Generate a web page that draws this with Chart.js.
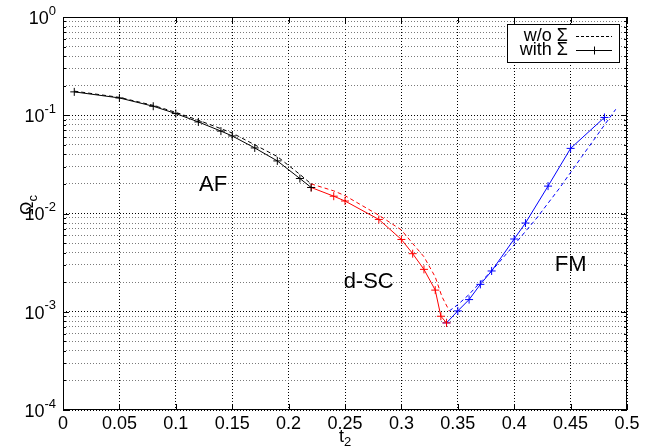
<!DOCTYPE html>
<html>
<head>
<meta charset="utf-8">
<script src="https://cdn.jsdelivr.net/npm/chart.js@4"></script>
<style>
  html, body { margin: 0; padding: 0; background: #fff; }
  #wrap { width: 645px; height: 448px; }
</style>
</head>
<body>
<div id="wrap"><canvas id="omegaChart"></canvas></div>
<script>
// Omega_c vs t2, with and without the self-energy, split by phase
const t2AFWith = [0.01, 0.05, 0.08, 0.10, 0.12, 0.14, 0.15, 0.17, 0.19, 0.21, 0.22];
const omegaAFWith = [0.173, 0.150, 0.1235, 0.104, 0.0855, 0.069, 0.0616, 0.0465, 0.0343, 0.0227, 0.0184];
const t2AFWithout = [0.01, 0.05, 0.08, 0.10, 0.12, 0.14, 0.15, 0.17, 0.19, 0.21, 0.22];
const omegaAFWithout = [0.176, 0.152, 0.126, 0.107, 0.089, 0.073, 0.066, 0.050, 0.038, 0.025, 0.020];

const t2SCWith = [0.22, 0.24, 0.25, 0.28, 0.30, 0.31, 0.32, 0.33, 0.335, 0.34];
const omegaSCWith = [0.0184, 0.0150, 0.0134, 0.0087, 0.00544, 0.0039, 0.0027, 0.00166, 0.0009, 0.00077];
const t2SCWithout = [0.22, 0.24, 0.25, 0.28, 0.30, 0.31, 0.32, 0.33, 0.336, 0.3425];
const omegaSCWithout = [0.0200, 0.0170, 0.0152, 0.0096, 0.0068, 0.00495, 0.00363, 0.00226, 0.00142, 0.00102];

const t2FMWith = [0.34, 0.35, 0.36, 0.37, 0.38, 0.40, 0.41, 0.43, 0.45, 0.48];
const omegaFMWith = [0.00077, 0.00102, 0.00133, 0.0019, 0.0026, 0.0055, 0.0080, 0.019, 0.046, 0.095];
const t2FMWithout = [0.3425, 0.35, 0.36, 0.37, 0.38, 0.40, 0.42, 0.44, 0.46, 0.49];
const omegaFMWithout = [0.00102, 0.00118, 0.0015, 0.0020, 0.0026, 0.0048, 0.009, 0.018, 0.038, 0.115];

const yDecades = [0, -1, -2, -3, -4];
const phaseLabels = [
  { text: 'AF', t2: 0.133, omega: 0.0194 },
  { text: 'd-SC', t2: 0.271, omega: 0.00201 },
  { text: 'FM', t2: 0.450, omega: 0.00298 }
];

const FONT = '"Liberation Sans", Arial, Helvetica, sans-serif';
const pairs = (xs, ys) => xs.map((v, i) => ({ x: v, y: ys[i] }));
const isDecade = v => Math.abs(Math.log10(v) - Math.round(Math.log10(v))) < 1e-9;

function lineSet(xs, ys, color, withSigma) {
  return {
    data: pairs(xs, ys),
    borderColor: color,
    backgroundColor: color,
    borderWidth: 1,
    borderDash: withSigma ? [] : [4, 3],
    pointStyle: 'cross',
    pointRadius: withSigma ? 4 : 0,
    pointBorderWidth: 1,
    pointBorderColor: color,
    tension: 0
  };
}

const decorations = {
  id: 'decorations',
  afterDraw(chart) {
    const { ctx, chartArea: a, scales: { x, y } } = chart;
    ctx.save();
    ctx.strokeStyle = '#000';
    ctx.lineWidth = 1;
    ctx.setLineDash([]);
    ctx.strokeRect(a.left + 0.5, a.top + 0.5, a.right - a.left - 1, a.bottom - a.top - 1);

    // inward tick marks on all four sides
    ctx.beginPath();
    y.ticks.forEach(t => {
      const py = Math.round(y.getPixelForValue(t.value)) + 0.5;
      const len = isDecade(t.value) ? 6 : 3;
      ctx.moveTo(a.left, py); ctx.lineTo(a.left + len, py);
      ctx.moveTo(a.right, py); ctx.lineTo(a.right - len, py);
    });
    x.ticks.forEach(t => {
      const px = Math.round(x.getPixelForValue(t.value)) + 0.5;
      ctx.moveTo(px, a.bottom); ctx.lineTo(px, a.bottom - 6);
      ctx.moveTo(px, a.top); ctx.lineTo(px, a.top + 6);
    });
    ctx.stroke();

    // y tick labels 10^n
    ctx.fillStyle = '#000';
    ctx.textBaseline = 'middle';
    ctx.textAlign = 'left';
    yDecades.forEach(e => {
      const py = y.getPixelForValue(Math.pow(10, e));
      ctx.font = '18px ' + FONT;
      const wb = ctx.measureText('10').width;
      ctx.font = '13px ' + FONT;
      const exp = String(e);
      const we = ctx.measureText(exp).width;
      const right = a.left - 7;
      ctx.font = '18px ' + FONT;
      ctx.fillText('10', right - we - wb, py + 2);
      ctx.font = '13px ' + FONT;
      ctx.fillText(exp, right - we, py - 6);
    });

    // axis titles
    ctx.font = '18px ' + FONT;
    const wt = ctx.measureText('t').width;
    ctx.font = '13px ' + FONT;
    const w2 = ctx.measureText('2').width;
    const cx = (a.left + a.right) / 2 - (wt + w2) / 2;
    ctx.font = '18px ' + FONT;
    ctx.fillText('t', cx, 437);
    ctx.font = '13px ' + FONT;
    ctx.fillText('2', cx + wt, 442);

    ctx.save();
    ctx.translate(28, 205);
    ctx.rotate(-Math.PI / 2);
    ctx.font = '18px ' + FONT;
    const wo = ctx.measureText('\u03A9').width;
    ctx.font = '13px ' + FONT;
    const wc = ctx.measureText('c').width;
    ctx.font = '18px ' + FONT;
    ctx.fillText('\u03A9', -(wo + wc) / 2, 0);
    ctx.font = '13px ' + FONT;
    ctx.fillText('c', -(wo + wc) / 2 + wo, 5);
    ctx.restore();

    // phase labels
    ctx.font = '22px ' + FONT;
    ctx.textAlign = 'center';
    phaseLabels.forEach(p => {
      ctx.fillText(p.text, x.getPixelForValue(p.t2), y.getPixelForValue(p.omega));
    });

    // legend box
    const bx = a.right - 120, by = a.top + 7, bw = 112, bh = 38;
    ctx.fillStyle = '#fff';
    ctx.fillRect(bx, by, bw, bh);
    ctx.strokeRect(bx + 0.5, by + 0.5, bw, bh);
    ctx.fillStyle = '#000';
    ctx.font = '18px ' + FONT;
    ctx.textAlign = 'right';
    ctx.fillText('w/o \u03A3', bx + 61, by + 12);
    ctx.fillText('with \u03A3', bx + 61, by + 26);
    ctx.beginPath();
    ctx.setLineDash([3, 2]);
    ctx.moveTo(bx + 69, by + 12.5); ctx.lineTo(bx + 105, by + 12.5);
    ctx.stroke();
    ctx.setLineDash([]);
    ctx.beginPath();
    ctx.moveTo(bx + 69, by + 26.5); ctx.lineTo(bx + 105, by + 26.5);
    ctx.moveTo(bx + 87.5, by + 22.5); ctx.lineTo(bx + 87.5, by + 30.5);
    ctx.stroke();
    ctx.restore();
  }
};

new Chart(document.getElementById('omegaChart'), {
  type: 'line',
  data: {
    datasets: [
      lineSet(t2AFWithout, omegaAFWithout, '#000000', false),
      lineSet(t2AFWith, omegaAFWith, '#000000', true),
      lineSet(t2SCWithout, omegaSCWithout, '#ff0000', false),
      lineSet(t2SCWith, omegaSCWith, '#ff0000', true),
      lineSet(t2FMWithout, omegaFMWithout, '#0000ff', false),
      lineSet(t2FMWith, omegaFMWith, '#0000ff', true)
    ]
  },
  options: {
    responsive: true,
    maintainAspectRatio: false,
    animation: false,
    layout: { padding: { top: 17, right: 18, left: 0, bottom: 0 } },
    plugins: { legend: { display: false }, tooltip: { enabled: false } },
    scales: {
      x: {
        type: 'linear',
        min: 0,
        max: 0.5,
        afterFit: s => { s.height = 38; },
        ticks: {
          stepSize: 0.05,
          color: '#000',
          padding: 3,
          maxRotation: 0,
          autoSkip: false,
          font: { family: FONT, size: 18 },
          callback: v => String(Math.round(v * 100) / 100)
        },
        grid: { color: '#000', drawTicks: false },
        border: { display: false, dash: [1, 2] }
      },
      y: {
        type: 'logarithmic',
        min: 1e-4,
        max: 1,
        afterFit: s => { s.width = 63; },
        afterBuildTicks: s => {
          const ticks = [];
          for (let e = -4; e < 0; e++) {
            for (let m = 1; m <= 9; m++) ticks.push({ value: m * Math.pow(10, e) });
          }
          ticks.push({ value: 1 });
          s.ticks = ticks;
        },
        ticks: { display: false, autoSkip: false },
        grid: {
          drawTicks: false,
          color: c => (c.tick && isDecade(c.tick.value)) ? '#000' : '#7a7a7a'
        },
        border: { display: false, dash: [1, 2] }
      }
    }
  },
  plugins: [decorations]
});
</script>
</body>
</html>
